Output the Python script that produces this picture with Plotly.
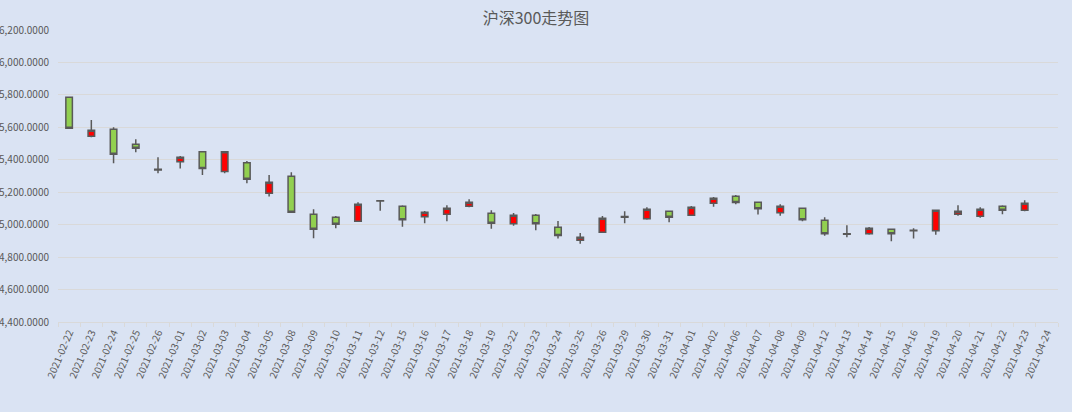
import plotly.graph_objects as go

# 沪深300 daily OHLC
dates = [
    "2021-02-22", "2021-02-23", "2021-02-24", "2021-02-25", "2021-02-26",
    "2021-03-01", "2021-03-02", "2021-03-03", "2021-03-04", "2021-03-05",
    "2021-03-08", "2021-03-09", "2021-03-10", "2021-03-11", "2021-03-12",
    "2021-03-15", "2021-03-16", "2021-03-17", "2021-03-18", "2021-03-19",
    "2021-03-22", "2021-03-23", "2021-03-24", "2021-03-25", "2021-03-26",
    "2021-03-29", "2021-03-30", "2021-03-31", "2021-04-01", "2021-04-02",
    "2021-04-06", "2021-04-07", "2021-04-08", "2021-04-09", "2021-04-12",
    "2021-04-13", "2021-04-14", "2021-04-15", "2021-04-16", "2021-04-19",
    "2021-04-20", "2021-04-21", "2021-04-22", "2021-04-23", "2021-04-24",
]
open_ = [
    5785, 5545, 5588, 5495, 5341, 5388, 5450, 5327, 5382, 5193,
    5298, 5064, 5045, 5021, 5148, 5113, 5049, 5064, 5113, 5070,
    5006, 5058, 4984, 4904, 4953, 5050, 5037, 5082, 5058, 5132,
    5175, 5138, 5074, 5101, 5027, 4944, 4944, 4972, 4965, 4963,
    5064, 5052, 5113, 5089, None,
]
high = [
    5785, 5645, 5600, 5526, 5415, 5423, 5450, 5450, 5393, 5306,
    5323, 5095, 5053, 5138, 5150, 5119, 5084, 5119, 5156, 5089,
    5072, 5066, 5023, 4949, 5053, 5082, 5107, 5082, 5115, 5171,
    5183, 5138, 5126, 5101, 5045, 4996, 4986, 4972, 4978, 5089,
    5119, 5107, 5119, 5151, None,
]
low = [
    5594, 5539, 5378, 5446, 5317, 5347, 5306, 5317, 5255, 5173,
    5076, 4916, 4978, 5021, 5086, 4987, 5008, 5021, 5107, 4975,
    4994, 4965, 4914, 4883, 4953, 5008, 5031, 5015, 5058, 5111,
    5126, 5062, 5055, 5021, 4932, 4922, 4938, 4898, 4914, 4938,
    5055, 5043, 5064, 5082, None,
]
close = [
    5594, 5582, 5434, 5471, 5337, 5415, 5347, 5450, 5280, 5261,
    5076, 4972, 5002, 5126, 5146, 5031, 5076, 5101, 5138, 5008,
    5058, 5006, 4933, 4922, 5039, 5046, 5095, 5045, 5107, 5163,
    5136, 5098, 5113, 5031, 4944, 4941, 4978, 4944, 4962, 5089,
    5082, 5095, 5089, 5132, None,
]

BG = "#dae3f3"
TEXT = "#595959"
EDGE = "#595959"
GRID = "#d9d9d9"

fig = go.Figure(go.Candlestick(
    x=dates,
    open=open_,
    high=high,
    low=low,
    close=close,
    increasing=dict(fillcolor="#ff0000", line=dict(color=EDGE, width=1.5)),
    decreasing=dict(fillcolor="#92d050", line=dict(color=EDGE, width=1.5)),
    whiskerwidth=0,
    showlegend=False,
))

fig.update_layout(
    width=1072,
    height=412,
    paper_bgcolor=BG,
    plot_bgcolor=BG,
    margin=dict(l=58, r=14, t=30, b=90),
    boxgap=0.58,
    title=dict(
        text="沪深300走势图",
        x=0.5,
        xanchor="center",
        y=0.955,
        yanchor="middle",
        font=dict(size=16, color=TEXT, family="Noto Sans CJK SC, sans-serif"),
    ),
    font=dict(family="Noto Sans CJK SC, sans-serif", color=TEXT, size=11),
    xaxis=dict(
        type="category",
        categoryorder="array",
        categoryarray=dates,
        rangeslider=dict(visible=False),
        tickangle=-67,
        tickson="boundaries",
        ticks="outside",
        ticklen=4,
        tickcolor=GRID,
        showline=True,
        linecolor=GRID,
        showgrid=False,
        tickfont=dict(size=10, color=TEXT),
        automargin=False,
    ),
    yaxis=dict(
        range=[4400, 6200],
        dtick=200,
        tickformat=",.4f",
        showgrid=True,
        gridcolor=GRID,
        zeroline=False,
        ticks="",
        ticklabelstandoff=8,
        tickfont=dict(size=10, color=TEXT),
        automargin=False,
    ),
)

# drop the default page margin so the chart fills the window like the original
fig.write_html(
    "out.html",
    config={"displayModeBar": False},
    post_script="document.body.style.margin='0';",
)
